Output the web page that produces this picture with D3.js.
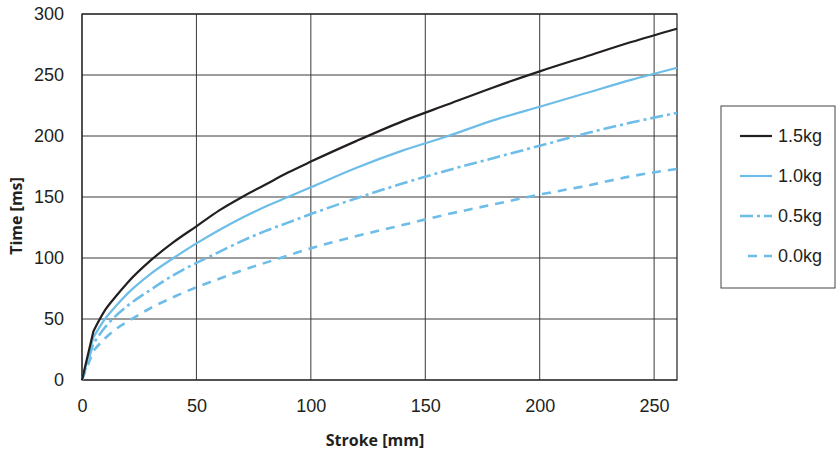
<!DOCTYPE html>
<html>
<head>
<meta charset="utf-8">
<script src="https://cdn.jsdelivr.net/npm/d3@7"></script>
<style>
  body { margin: 0; background: #fff; }
  text { font-family: "Liberation Sans", Arial, sans-serif; fill: #231f20; }
</style>
</head>
<body>
<svg id="chart" width="836" height="452"></svg>
<script>
// stroke positions [mm]
const stroke = [0, 5, 10, 15, 20, 30, 40, 50, 60, 70, 80, 90, 100, 120, 140, 160, 180, 200, 220, 240, 260]

// time [ms] per load
const load15 = [0, 40, 57, 69, 80, 98, 113, 126, 139, 150, 160, 170, 179, 196, 212, 226, 240, 253, 265, 277, 288]
const load10 = [0, 35, 50, 61, 71, 87, 100, 112, 123, 133, 142, 150, 158, 174, 188, 200, 213, 224, 235, 246, 256]
const load05 = [0, 30, 43, 53, 61, 74, 86, 96, 105, 114, 122, 129, 136, 149, 161, 172, 182, 192, 202, 211, 219]
const load00 = [0, 24, 34, 42, 48, 59, 68, 76, 83, 90, 96, 102, 108, 118, 127, 136, 144, 152, 159, 167, 173]

const xTicks = [0, 50, 100, 150, 200, 250]
const yTicks = [0, 50, 100, 150, 200, 250, 300]

const series = [
    { label: "1.5kg", values: load15, color: "#231f20", dash: null },
    { label: "1.0kg", values: load10, color: "#6dbde8", dash: null },
    { label: "0.5kg", values: load05, color: "#6dbde8", dash: "13,4,3,4" },
    { label: "0.0kg", values: load00, color: "#6dbde8", dash: "9,7" },
]

const svg = d3.select("#chart")
const plotLeft = 82, plotRight = 677, plotTop = 14, plotBottom = 380

const x = d3.scaleLinear().domain([0, 260]).range([plotLeft, plotRight])
const y = d3.scaleLinear().domain([0, 300]).range([plotBottom, plotTop])

// grid
const grid = svg.append("g")
grid.selectAll("line.v")
    .data(xTicks)
    .join("line")
    .attr("class", "v")
    .attr("x1", d => x(d)).attr("x2", d => x(d))
    .attr("y1", plotTop).attr("y2", plotBottom)
    .attr("stroke", "#3a3a3a").attr("stroke-width", 1)
grid.selectAll("line.h")
    .data(yTicks)
    .join("line")
    .attr("class", "h")
    .attr("x1", plotLeft).attr("x2", plotRight)
    .attr("y1", d => y(d)).attr("y2", d => y(d))
    .attr("stroke", "#3a3a3a").attr("stroke-width", 1)

svg.append("rect")
    .attr("x", plotLeft).attr("y", plotTop)
    .attr("width", plotRight - plotLeft).attr("height", plotBottom - plotTop)
    .attr("fill", "none").attr("stroke", "#231f20").attr("stroke-width", 1.2)

// axes labels
const xAxis = svg.append("g")
    .attr("transform", `translate(0,${plotBottom})`)
    .call(d3.axisBottom(x).tickValues(xTicks).tickSize(0).tickPadding(19))
const yAxis = svg.append("g")
    .attr("transform", `translate(${plotLeft},0)`)
    .call(d3.axisLeft(y).tickValues(yTicks).tickSize(0).tickPadding(18))
;[xAxis, yAxis].forEach(a => {
    a.select(".domain").remove()
    a.selectAll("text")
        .attr("font-size", 18)
        .attr("font-family", "Liberation Sans, Arial, sans-serif")
        .attr("fill", "#231f20")
})

svg.append("text")
    .attr("x", 375).attr("y", 446)
    .attr("text-anchor", "middle")
    .attr("font-size", 16).attr("font-weight", "bold")
    .style("font-family", "Open Sans, sans-serif")
    .text("Stroke [mm]")

svg.append("text")
    .attr("transform", "translate(22,216) rotate(-90)")
    .attr("text-anchor", "middle")
    .attr("font-size", 16).attr("font-weight", "bold")
    .style("font-family", "Open Sans, sans-serif")
    .text("Time [ms]")

// curves: straight start segment, then a smooth curve
const line = d3.line()
    .x((d, i) => x(stroke[i + 1]))
    .y(d => y(d))
    .curve(d3.curveMonotoneX)
const curvePath = v => `M${x(stroke[0])},${y(v[0])}L` + line(v.slice(1)).slice(1)

svg.append("g").selectAll("path")
    .data(series.slice().reverse())
    .join("path")
    .attr("d", d => curvePath(d.values))
    .attr("fill", "none")
    .attr("stroke", d => d.color)
    .attr("stroke-width", d => d.dash ? 2.6 : 2.2)
    .attr("stroke-dasharray", d => d.dash)
    .attr("stroke-linejoin", "round")

// legend
const legend = svg.append("g")
legend.append("rect")
    .attr("x", 721).attr("y", 106)
    .attr("width", 114).attr("height", 182)
    .attr("fill", "#fff").attr("stroke", "#444").attr("stroke-width", 1)

const rowY = d3.scalePoint().domain(series.map(d => d.label)).range([136, 256])
const rows = legend.selectAll("g.row")
    .data(series)
    .join("g")
    .attr("class", "row")
    .attr("transform", d => `translate(0,${rowY(d.label)})`)
rows.append("line")
    .attr("x1", d => d.dash === "9,7" ? 748 : 740).attr("x2", 772)
    .attr("stroke", d => d.color)
    .attr("stroke-width", d => d.dash ? 2.6 : 2.2)
    .attr("stroke-dasharray", d => d.dash)
rows.append("text")
    .attr("x", 778).attr("y", 6)
    .attr("font-size", 18)
    .text(d => d.label)
</script>
</body>
</html>
